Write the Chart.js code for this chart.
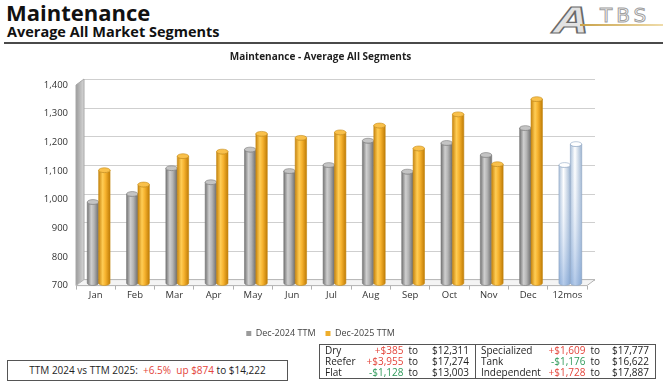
<!DOCTYPE html>
<html lang="en">
<head>
  <meta charset="UTF-8" />
  <title>Maintenance - Average All Segments</title>
  <style>
    html, body {
      margin: 0;
      padding: 0;
      background: #fff;
      width: 663px;
      height: 383px;
      overflow: hidden;
      font-family: 'Open Sans', sans-serif;
      color: #1e1e1e;
    }
    .abs { position: absolute; }
    #title1 {
      left: 6px; top: -3px;
      font-size: 22px; font-weight: 700; line-height: 30px;
      color: #111;
    }
    #title2 {
      left: 7px; top: 23px;
      font-size: 14.5px; font-weight: 700; line-height: 18px;
      color: #111;
    }
    #rule {
      left: 4px; top: 42px; width: 659px; height: 2px;
      background: #4a4a4a;
    }
    #logo { left: 548px; top: 2px; width: 115px; height: 38px; }
    #logo .a {
      position: absolute; left: 12px; top: -7px;
      font-size: 36px; font-style: italic; font-weight: 700;
      color: #e2e2e2; -webkit-text-stroke: 1.2px #6a6a6a;
      transform: scaleX(1.5);
    }
    #logo .tbs {
      position: absolute; left: 52px; top: 1px;
      font-size: 20px; letter-spacing: 4px; font-family: 'DejaVu Sans', sans-serif;
      color: #fff; -webkit-text-stroke: 1px #a0a0a0;
    }
    #logo .gold {
      position: absolute; left: 32px; top: 22px; width: 83px; height: 2px;
      background: linear-gradient(to right, #c9a24a, #efdcaa);
    }
    #chartWrap { left: 0; top: 44px; width: 663px; height: 304px; }
    #summary {
      left: 7px; top: 360px; width: 279px; height: 19px;
      border: 1px solid #555;
      font-size: 10px; line-height: 19px; text-align: center;
      white-space: pre;
    }
    .up { color: #e4453b; }
    .down { color: #2f9a5a; }
    #segs {
      left: 319px; top: 344px;
      border-collapse: collapse; table-layout: fixed;
      border: 1px solid #555;
      font-size: 10px; line-height: 11px;
    }
    #segs td { padding: 0; white-space: nowrap; }
    #segs td.n { padding-left: 5px; }
    #segs td.c, #segs td.v { text-align: right; }
    #segs td.t { padding-left: 5px; }
    #segs td.v { padding-right: 6px; }
    #segs td.split { border-left: 1px solid #555; }
  </style>
</head>
<body>
  <div id="title1" class="abs">Maintenance</div>
  <div id="title2" class="abs">Average All Market Segments</div>
  <div id="rule" class="abs"></div>
  <div id="logo" class="abs"><span class="a">A</span><span class="tbs">TBS</span><div class="gold"></div></div>

  <div id="chartWrap" class="abs"><canvas id="maintChart"></canvas></div>

  <div id="summary" class="abs"></div>
  <table id="segs" class="abs">
    <colgroup>
      <col style="width:47px"><col style="width:35px"><col style="width:20px"><col style="width:52px">
      <col style="width:67px"><col style="width:43px"><col style="width:20px"><col style="width:50px">
    </colgroup>
    <tbody></tbody>
  </table>

  <script src="https://cdn.jsdelivr.net/npm/chart.js@4.4.0/dist/chart.umd.min.js"></script>
  <script>
    // values
    const months = ['Jan', 'Feb', 'Mar', 'Apr', 'May', 'Jun', 'Jul', 'Aug', 'Sep', 'Oct', 'Nov', 'Dec', '12mos'];
    const ttm2024 = [983, 1011, 1101, 1052, 1166, 1091, 1112, 1197, 1089, 1189, 1147, 1241, 1112];
    const ttm2025 = [1094, 1044, 1143, 1159, 1221, 1207, 1226, 1250, 1170, 1289, 1115, 1342, 1185];
    const yTicks = [700, 800, 900, 1000, 1100, 1200, 1300, 1400];

    const segNames = ['Dry', 'Reefer', 'Flat', 'Specialized', 'Tank', 'Independent'];
    const segChange = ['+$385', '+$3,955', '-$1,128', '+$1,609', '-$1,176', '+$1,728'];
    const segTotal = ['$12,311', '$17,274', '$13,003', '$17,777', '$16,622', '$17,887'];
    const summaryPct = '+6.5%';
    const summaryUp = '$874';
    const summaryTotal = '$14,222';

    document.getElementById('summary').innerHTML =
      'TTM 2024 vs TTM 2025:  <span class="up">' + summaryPct + '  up ' + summaryUp + '</span> to ' + summaryTotal;

    const tbody = document.querySelector('#segs tbody');
    for (let r = 0; r < 3; r++) {
      const tr = document.createElement('tr');
      [r, r + 3].forEach((k, h) => {
        const cls = segChange[k][0] === '+' ? 'up' : 'down';
        tr.innerHTML +=
          '<td class="n' + (h ? ' split' : '') + '">' + segNames[k] + '</td>' +
          '<td class="c ' + cls + '">' + segChange[k] + '</td>' +
          '<td class="t">to</td>' +
          '<td class="v">' + segTotal[k] + '</td>';
      });
      tbody.appendChild(tr);
    }

    // depth of the fake 3D box, and how far the cylinders sit back in it
    const DX = 8, DY = 6, BX = 3, BY = 2.5;
    const palettes = {
      grey: { side: [[0, '#747474'], [0.35, '#cfcfcf'], [0.6, '#b4b4b4'], [1, '#6c6c6c']], cap: '#c4c4c4', edge: '#7a7a7a' },
      gold: { side: [[0, '#c98610'], [0.35, '#ffcd55'], [0.6, '#f6b22e'], [1, '#c07c06']], cap: '#f9c04a', edge: '#c58a16' },
      blue: { side: [[0, '#a9bfd9'], [0.4, '#ffffff'], [1, '#9bb3d0']], cap: '#ffffff', edge: '#8fa6c2', fade: true }
    };

    function drawCylinder(ctx, l, top, bottom, w, p) {
      const rx = w / 2, ry = 2.4, cx = l + rx;
      const g = ctx.createLinearGradient(l, 0, l + w, 0);
      p.side.forEach(s => g.addColorStop(s[0], s[1]));
      ctx.beginPath();
      ctx.moveTo(l, top);
      ctx.lineTo(l, bottom);
      ctx.ellipse(cx, bottom, rx, ry, 0, Math.PI, 0, true);
      ctx.lineTo(l + w, top);
      ctx.ellipse(cx, top, rx, ry, 0, 0, Math.PI, false);
      ctx.closePath();
      ctx.fillStyle = g;
      ctx.fill();
      if (p.fade) {
        const v = ctx.createLinearGradient(0, top, 0, bottom);
        v.addColorStop(0, 'rgba(255,255,255,0)');
        v.addColorStop(1, 'rgba(120,160,215,0.55)');
        ctx.fillStyle = v;
        ctx.fill();
      }
      ctx.strokeStyle = p.edge;
      ctx.lineWidth = 0.6;
      ctx.stroke();
      ctx.beginPath();
      ctx.ellipse(cx, top, rx, ry, 0, 0, Math.PI * 2);
      ctx.fillStyle = p.cap;
      ctx.fill();
      ctx.stroke();
    }

    const box3d = {
      id: 'box3d',
      beforeDatasetsDraw(chart) {
        const { ctx, chartArea: a } = chart;
        const ys = chart.scales.y;
        ctx.save();
        // back wall grid
        ctx.strokeStyle = '#cfcfcf';
        ctx.lineWidth = 1;
        ys.ticks.forEach(t => {
          const yy = Math.round(ys.getPixelForValue(t.value) - DY) + 0.5;
          ctx.beginPath();
          ctx.moveTo(a.left + DX, yy);
          ctx.lineTo(a.right + DX, yy);
          ctx.stroke();
        });
        // left wall
        const wg = ctx.createLinearGradient(a.left, 0, a.left + DX, 0);
        wg.addColorStop(0, '#9c9c9c');
        wg.addColorStop(1, '#d6d6d6');
        ctx.beginPath();
        ctx.moveTo(a.left, a.top);
        ctx.lineTo(a.left + DX, a.top - DY);
        ctx.lineTo(a.left + DX, a.bottom - DY);
        ctx.lineTo(a.left, a.bottom);
        ctx.closePath();
        ctx.fillStyle = wg;
        ctx.fill();
        ctx.strokeStyle = '#a8a8a8';
        ctx.stroke();
        // floor
        ctx.beginPath();
        ctx.moveTo(a.left, a.bottom);
        ctx.lineTo(a.right, a.bottom);
        ctx.lineTo(a.right + DX, a.bottom - DY);
        ctx.lineTo(a.left + DX, a.bottom - DY);
        ctx.closePath();
        ctx.fillStyle = '#f4f4f4';
        ctx.fill();
        ctx.strokeStyle = '#b3b3b3';
        ctx.stroke();
        // cylinders, standing a little way back on the floor
        chart.data.datasets.forEach((ds, di) => {
          chart.getDatasetMeta(di).data.forEach((bar, i) => {
            const b = bar.getProps(['x', 'y', 'base', 'width'], true);
            let p = di === 0 ? palettes.grey : palettes.gold;
            if (i === months.length - 1) p = palettes.blue;
            const floor = Math.min(b.base, a.bottom) - BY;
            drawCylinder(ctx, b.x - b.width / 2 + BX, b.y - BY, floor, b.width, p);
          });
        });
        ctx.restore();
        return false;
      }
    };

    Chart.defaults.font.family = "'Open Sans', sans-serif";
    Chart.defaults.color = '#333';

    new Chart(document.getElementById('maintChart'), {
      type: 'bar',
      data: {
        labels: months,
        datasets: [
          { label: 'Dec-2024 TTM', data: ttm2024, backgroundColor: '#9a9a9a', categoryPercentage: 0.58, barPercentage: 1 },
          { label: 'Dec-2025 TTM', data: ttm2025, backgroundColor: '#eeae2c', categoryPercentage: 0.58, barPercentage: 1 }
        ]
      },
      options: {
        responsive: true,
        maintainAspectRatio: false,
        animation: false,
        layout: { padding: { left: 0, right: 22, top: 0, bottom: 0 } },
        plugins: {
          title: {
            display: true,
            text: 'Maintenance - Average All Segments',
            color: '#1e1e1e',
            font: { size: 10, weight: 'bold' },
            padding: { top: 7, bottom: 22 }
          },
          legend: {
            position: 'bottom',
            labels: { boxWidth: 5, boxHeight: 5, padding: 10, color: '#444', font: { size: 9 } }
          },
          tooltip: { enabled: false }
        },
        scales: {
          x: {
            offset: true,
            afterFit: s => { s.height += 18; },
            grid: { display: true, drawOnChartArea: false, drawTicks: true, tickLength: 4, color: '#b0b0b0', offset: true },
            border: { display: false },
            ticks: { padding: 0, color: '#333', font: { size: 9.5 } }
          },
          y: {
            min: 700,
            max: 1400,
            afterFit: s => { s.width = 76; },
            afterBuildTicks: s => { s.ticks = yTicks.map(v => ({ value: v })); },
            grid: { display: false, drawTicks: false },
            border: { display: false },
            ticks: {
              padding: 8,
              color: '#333',
              font: { size: 9.5 },
              callback: v => v.toLocaleString('en-US')
            }
          },
          yR: {
            position: 'right',
            afterFit: s => { s.width = 54; },
            grid: { display: false },
            border: { display: false },
            ticks: { display: false }
          }
        }
      },
      plugins: [box3d]
    });
  </script>
</body>
</html>
